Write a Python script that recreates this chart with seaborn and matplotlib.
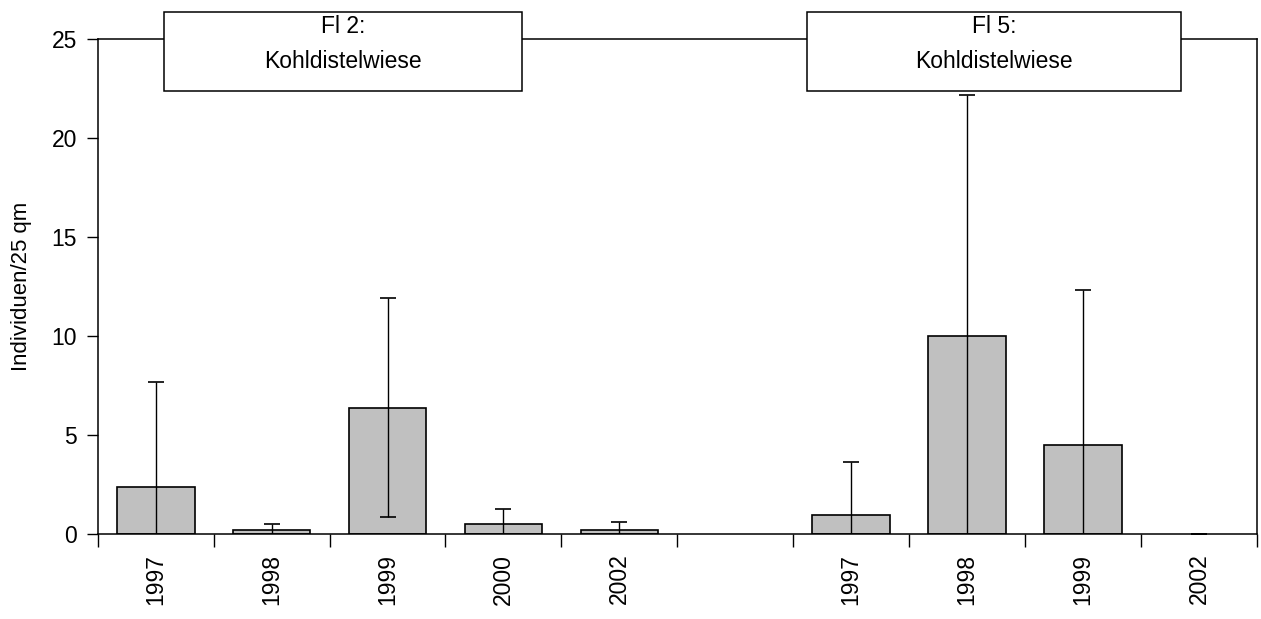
import numpy as np
import pandas as pd
import seaborn as sns
import matplotlib.pyplot as plt
from matplotlib.patches import Rectangle

# Werte: Mittelwert und Standardabweichung je Jahr
slots = ["a1997", "a1998", "a1999", "a2000", "a2002", "leer", "b1997", "b1998", "b1999", "b2002"]
jahre = ["1997", "1998", "1999", "2000", "2002", "", "1997", "1998", "1999", "2002"]
mittel = [2.4, 0.2, 6.4, 0.5, 0.2, np.nan, 1.0, 10.0, 4.5, 0.0]
sd = [5.3, 0.3, 5.55, 0.77, 0.41, np.nan, 2.67, 12.17, 7.85, 0.0]
flaeche = ["Fl 2:", "Fl 5:"]
biotop = ["Kohldistelwiese", "Kohldistelwiese"]

W, H = 1261, 619
sns.set_style("white")
plt.rcParams['font.family'] = ['Liberation Sans', 'DejaVu Sans']
plt.rcParams['text.color'] = 'black'
plt.rcParams['axes.labelcolor'] = 'black'
plt.rcParams['xtick.color'] = 'black'
plt.rcParams['ytick.color'] = 'black'

fig = plt.figure(figsize=(W / 100, H / 100), dpi=100)
ax = fig.add_axes([97.7 / W, 1 - 534.3 / H, (1257 - 97.7) / W, (534.3 - 39.3) / H])

df = pd.DataFrame({"slot": slots, "wert": mittel}).dropna()
sns.barplot(data=df, x="slot", y="wert", order=slots, color="#c0c0c0", saturation=1,
            edgecolor="black", linewidth=1.2, width=0.67, errorbar=None, ax=ax)
# Balken mit Hoehe 0 ohne Rahmen (wie im Original)
for p in ax.patches:
    if p.get_height() == 0:
        p.set_linewidth(0)

# Fehlerbalken (Standardabweichung)
ax.errorbar(np.arange(len(slots)), mittel, yerr=sd, fmt="none", ecolor="black",
            elinewidth=1.0, capsize=5.8, capthick=1.2, zorder=3)

ax.set_ylim(0, 25)
ax.set_yticks(range(0, 26, 5))
ax.set_xlim(-0.5, len(slots) - 0.5)
ax.set_xticks(np.arange(-0.5, len(slots), 1))
ax.set_xticklabels([])
ax.set_xticks(np.arange(len(slots)), minor=True)
ax.set_xticklabels(jahre, minor=True, rotation=90)
ax.tick_params(axis="x", which="major", direction="out", length=9, width=1, color="black", bottom=True)
ax.tick_params(axis="x", which="minor", length=0, pad=14, labelsize=16.5, bottom=True)
ax.tick_params(axis="y", direction="out", length=8, width=1, color="black", labelsize=16.5, pad=7, left=True)
ax.set_xlabel("")
ax.set_ylabel("Individuen/25 qm", fontsize=16)
ax.yaxis.set_label_coords(-0.057, 0.5)

for s in ax.spines.values():
    s.set_visible(True)
    s.set_color("black")
    s.set_linewidth(1.1)

# Beschriftungskästen oben
kaesten = [(163.7, 521.7), (807, 1181.3)]
for (x0, x1), f, b in zip(kaesten, flaeche, biotop):
    y0, y1 = 11.7, 90.7
    fig.add_artist(Rectangle((x0 / W, 1 - y1 / H), (x1 - x0) / W, (y1 - y0) / H,
                             transform=fig.transFigure, facecolor="white",
                             edgecolor="black", linewidth=1.1, zorder=5))
    xc = (x0 + x1) / 2 / W
    fig.text(xc, 1 - 33 / H, f, ha="center", va="baseline", fontsize=16.5, zorder=6)
    fig.text(xc, 1 - 68 / H, b, ha="center", va="baseline", fontsize=16.5, zorder=6)

plt.savefig("out.png", dpi=100)
plt.close()
